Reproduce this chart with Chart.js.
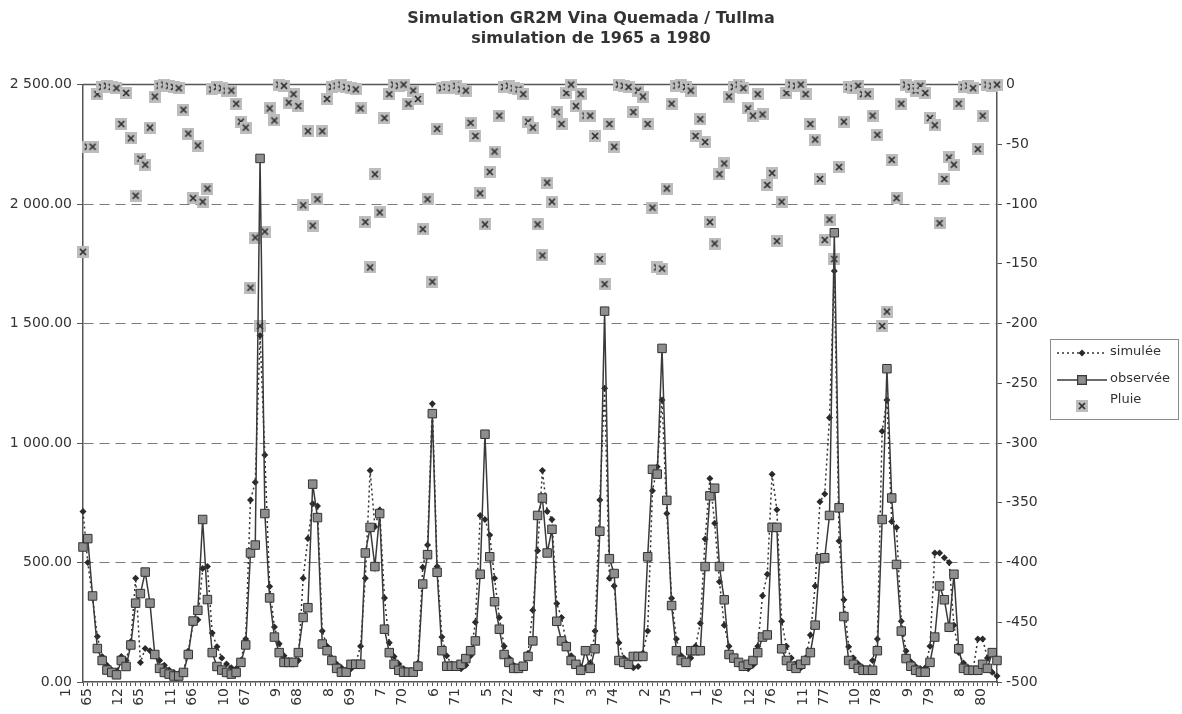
<!DOCTYPE html>
<html>
<head>
<meta charset="utf-8">
<title>Simulation GR2M Vina Quemada / Tullma</title>
<script src="https://cdn.jsdelivr.net/npm/chart.js@4.4.1/dist/chart.umd.min.js"></script>
<style>
  html, body { margin: 0; padding: 0; background: #fff; }
  #wrap { width: 1182px; height: 714px; }
</style>
</head>
<body>
<div id="wrap"><canvas id="mycanvas" width="1182" height="714"></canvas></div>
<script>
// x axis: one category per month, 1/65 .. 12/80, labelled every 11 months
var tickLabels = ['1/65', '12/65', '11/66', '10/67', '9/68', '8/69', '7/70', '6/71', '5/72',
  '4/73', '3/74', '2/75', '1/76', '12/76', '11/77', '10/78', '9/79', '8/80'];

// debit observe (left axis), one row per year
var observee = [
  565, 600, 360, 140, 90, 50, 40, 30, 90, 65, 155, 330,
  370, 460, 330, 115, 57, 40, 33, 25, 25, 40, 115, 255,
  300, 680, 345, 123, 65, 50, 40, 33, 40, 82, 155, 540,
  573, 2191, 705, 352, 188, 123, 82, 82, 82, 123, 270, 311,
  828, 688, 159, 131, 90, 57, 41, 41, 74, 74, 74, 540,
  647, 483, 705, 221, 123, 74, 49, 41, 41, 41, 66, 410,
  533, 1123, 459, 131, 66, 66, 66, 74, 98, 131, 172, 451,
  1037, 524, 336, 221, 115, 82, 57, 57, 66, 107, 172, 697,
  770, 540, 639, 254, 172, 148, 90, 74, 49, 131, 57, 139,
  631, 1552, 516, 454, 90, 82, 74, 107, 107, 107, 524, 890,
  870, 1396, 760, 320, 131, 90, 82, 131, 131, 131, 483, 779,
  811, 483, 344, 115, 100, 82, 66, 74, 90, 123, 188, 197,
  647, 647, 139, 90, 66, 57, 74, 90, 123, 238, 516, 520,
  697, 1880, 729, 274, 90, 74, 57, 49, 49, 49, 131, 680,
  1311, 770, 492, 213, 98, 66, 49, 41, 41, 82, 188, 402,
  344, 229, 451, 139, 57, 49, 49, 49, 74, 57, 123, 90
];

// debit simule GR2M (left axis)
var simulee = [
  713, 500, 352, 190, 107, 70, 50, 45, 107, 90, 170, 434,
  82, 140, 131, 115, 90, 70, 50, 40, 35, 45, 130, 245,
  260, 475, 483, 205, 148, 100, 75, 60, 55, 90, 180, 762,
  836, 1450, 950, 400, 230, 160, 110, 90, 75, 90, 434, 600,
  746, 737, 213, 150, 100, 75, 60, 50, 55, 80, 150, 434,
  885, 650, 720, 352, 164, 107, 75, 55, 45, 45, 80, 480,
  573, 1164, 483, 188, 110, 75, 60, 55, 70, 110, 250, 697,
  680, 615, 434, 270, 150, 100, 70, 60, 65, 120, 300, 549,
  885, 713, 680, 328, 270, 160, 110, 80, 65, 60, 80, 213,
  762, 1229, 434, 402, 164, 100, 75, 60, 65, 120, 213, 800,
  901, 1180, 705, 350, 180, 110, 80, 100, 150, 246, 598, 852,
  664, 420, 238, 150, 100, 75, 60, 55, 70, 150, 361, 451,
  869, 721, 254, 150, 100, 75, 60, 100, 197, 402, 754, 787,
  1106, 1720, 590, 344, 148, 100, 75, 60, 55, 90, 180, 1049,
  1180, 672, 647, 254, 130, 85, 65, 55, 60, 150, 540, 540,
  520, 500, 238, 123, 80, 60, 50, 180, 180, 100, 41, 25
];

// pluie mensuelle, tracee en negatif sur l'axe de droite
var pluie = [
  -140, -52, -52, -8, -2, -1, -2, -3, -33, -7, -45, -93,
  -62, -67, -36, -10, -1, 0, -1, -2, -3, -21, -41, -95,
  -51, -98, -87, -4, -2, -3, -5, -5, -16, -31, -36, -170,
  -128, -202, -123, -20, -30, 0, -1, -15, -8, -18, -101, -39,
  -118, -96, -39, -12, -2, -1, 0, -2, -3, -4, -20, -115,
  -153, -75, -107, -28, -8, 0, -1, 0, -16, -5, -12, -121,
  -96, -165, -37, -3, -2, -3, -1, -4, -5, -32, -43, -91,
  -117, -73, -56, -26, -2, -1, -3, -4, -8, -31, -36, -117,
  -143, -82, -98, -23, -33, -7, 0, -18, -8, -26, -26, -43,
  -146, -167, -33, -52, 0, -1, -2, -23, -5, -10, -33, -103,
  -153, -154, -87, -16, -1, 0, -2, -5, -43, -29, -48, -115,
  -133, -75, -66, -10, -2, 0, -3, -20, -26, -8, -25, -84,
  -74, -131, -98, -7, 0, -1, 0, -8, -33, -46, -79, -130,
  -113, -146, -69, -31, -2, -3, -1, -8, -8, -26, -42, -202,
  -190, -63, -95, -16, 0, -2, -5, -1, -7, -28, -34, -116,
  -79, -61, -67, -16, -2, -1, -3, -54, -26, 0, -1, 0
];

var months = [];
for (var yy = 65; yy <= 80; yy++) {
  for (var mm = 1; mm <= 12; mm++) {
    months.push(mm + '/' + yy);
  }
}

var tickFont = { family: 'DejaVu Sans', size: 14 };
var axisColor = '#555';

// gray square with an x, like the excel marker
function pluieMarker() {
  var c = document.createElement('canvas');
  c.width = 12;
  c.height = 12;
  var g = c.getContext('2d');
  g.fillStyle = '#bdbdbd';
  g.fillRect(0, 0, 12, 12);
  g.strokeStyle = '#2e2e2e';
  g.lineWidth = 1.7;
  g.beginPath();
  g.moveTo(3, 3); g.lineTo(9, 9);
  g.moveTo(9, 3); g.lineTo(3, 9);
  g.stroke();
  return c;
}
var marker = pluieMarker();

function fmt(v) {
  return v.toFixed(2).replace(/\B(?=(\d{3})+(?!\d))/g, ' ');
}

// top edge of the plot frame
var frameTop = {
  id: 'frameTop',
  beforeDatasetsDraw: function (chart) {
    var a = chart.chartArea, ctx = chart.ctx;
    ctx.save();
    ctx.strokeStyle = axisColor;
    ctx.lineWidth = 1.5;
    ctx.beginPath();
    ctx.moveTo(a.left, a.top);
    ctx.lineTo(a.right, a.top);
    ctx.stroke();
    ctx.restore();
  }
};

// boxed legend on the right, line + marker samples
var sideLegend = {
  id: 'sideLegend',
  afterDraw: function (chart) {
    var ctx = chart.ctx;
    var bx = 1050, by = 339, bw = 128, bh = 80;
    ctx.save();
    ctx.fillStyle = '#fff';
    ctx.fillRect(bx, by, bw, bh);
    ctx.strokeStyle = '#8a8a8a';
    ctx.lineWidth = 1;
    ctx.strokeRect(bx + 0.5, by + 0.5, bw, bh);

    var items = [chart.data.datasets[1], chart.data.datasets[0], chart.data.datasets[2]];
    var rows = [353, 380, 406];
    ctx.font = '13px "DejaVu Sans"';
    ctx.textBaseline = 'middle';
    for (var i = 0; i < items.length; i++) {
      var ds = items[i], y = rows[i], cx = 1082;
      if (ds.showLine !== false) {
        ctx.strokeStyle = ds.borderColor;
        ctx.lineWidth = 1.5;
        ctx.setLineDash(ds.borderDash || []);
        ctx.beginPath();
        ctx.moveTo(1057, y);
        ctx.lineTo(1107, y);
        ctx.stroke();
        ctx.setLineDash([]);
      }
      Chart.helpers.drawPoint(ctx, {
        pointStyle: ds.pointStyle,
        radius: ds.pointRadius,
        borderWidth: ds.pointBorderWidth || 0
      }, cx, y);
      ctx.fillStyle = ds.pointBackgroundColor || '#000';
      ctx.strokeStyle = ds.pointBorderColor || '#000';
      if (typeof ds.pointStyle === 'string') {
        ctx.fill();
        if (ds.pointBorderWidth) { ctx.lineWidth = ds.pointBorderWidth; ctx.stroke(); }
      }
      ctx.fillStyle = '#333';
      ctx.fillText(ds.label, 1110, i === 2 ? y - 6 : y - 1);
    }
    ctx.restore();
  }
};

var ctx = document.getElementById('mycanvas');

var chart = new Chart(ctx, {
  type: 'line',
  data: {
    labels: months,
    datasets: [
      {
        label: 'observée',
        data: observee,
        yAxisID: 'y',
        borderColor: '#3a3a3a',
        borderWidth: 1.5,
        pointStyle: 'rect',
        pointRadius: 6,
        pointBackgroundColor: '#8e8e8e',
        pointBorderColor: '#333',
        pointBorderWidth: 1,
        tension: 0,
        clip: 10
      },
      {
        label: 'simulée',
        data: simulee,
        yAxisID: 'y',
        borderColor: '#333',
        borderWidth: 1.5,
        borderDash: [2, 3],
        pointStyle: 'rectRot',
        pointRadius: 3.5,
        pointBackgroundColor: '#2a2a2a',
        pointBorderColor: '#2a2a2a',
        pointBorderWidth: 0,
        tension: 0,
        clip: 10
      },
      {
        label: 'Pluie',
        data: pluie,
        yAxisID: 'y2',
        showLine: false,
        pointStyle: marker,
        pointRadius: 6,
        clip: 10
      }
    ]
  },
  options: {
    responsive: false,
    animation: false,
    events: [],
    layout: { padding: 0 },
    plugins: {
      legend: { display: false },
      tooltip: { enabled: false },
      title: {
        display: true,
        text: ['Simulation GR2M Vina Quemada / Tullma', 'simulation de 1965 a 1980'],
        color: '#333',
        font: { family: 'DejaVu Sans', size: 16, weight: 'bold', lineHeight: 1.3 },
        padding: { top: 8, bottom: 35 }
      }
    },
    scales: {
      x: {
        type: 'category',
        grid: { drawOnChartArea: false, tickLength: 4, color: axisColor },
        border: { color: axisColor, width: 1.5 },
        ticks: {
          autoSkip: false,
          minRotation: 90,
          maxRotation: 90,
          padding: 2,
          labelOffset: -17,
          color: '#333',
          font: { family: 'DejaVu Sans', size: 14, lineHeight: 1.5 },
          callback: function (value, index) {
            var m = months[index];
            return tickLabels.indexOf(m) >= 0 ? m.split('/') : '';
          }
        },
        afterFit: function (scale) { scale.height = 32; }
      },
      y: {
        position: 'left',
        min: 0,
        max: 2500,
        ticks: { stepSize: 500, padding: 5, color: '#333', font: tickFont, callback: fmt },
        grid: {
          color: function (c) {
            var v = c.tick ? c.tick.value : null;
            return (v === 0 || v === 2500) ? 'rgba(0,0,0,0)' : '#7a7a7a';
          },
          tickColor: axisColor,
          tickLength: 6
        },
        border: { color: axisColor, width: 1.5, dash: [10, 6] },
        afterFit: function (scale) { scale.width = 83; }
      },
      y2: {
        position: 'right',
        min: -500,
        max: 0,
        ticks: { stepSize: 50, padding: 4, color: '#333', font: tickFont },
        grid: { drawOnChartArea: false, tickLength: 5, color: axisColor },
        border: { color: axisColor, width: 1.5 },
        afterFit: function (scale) { scale.width = 185; }
      }
    }
  },
  plugins: [frameTop, sideLegend]
});
</script>
</body>
</html>
